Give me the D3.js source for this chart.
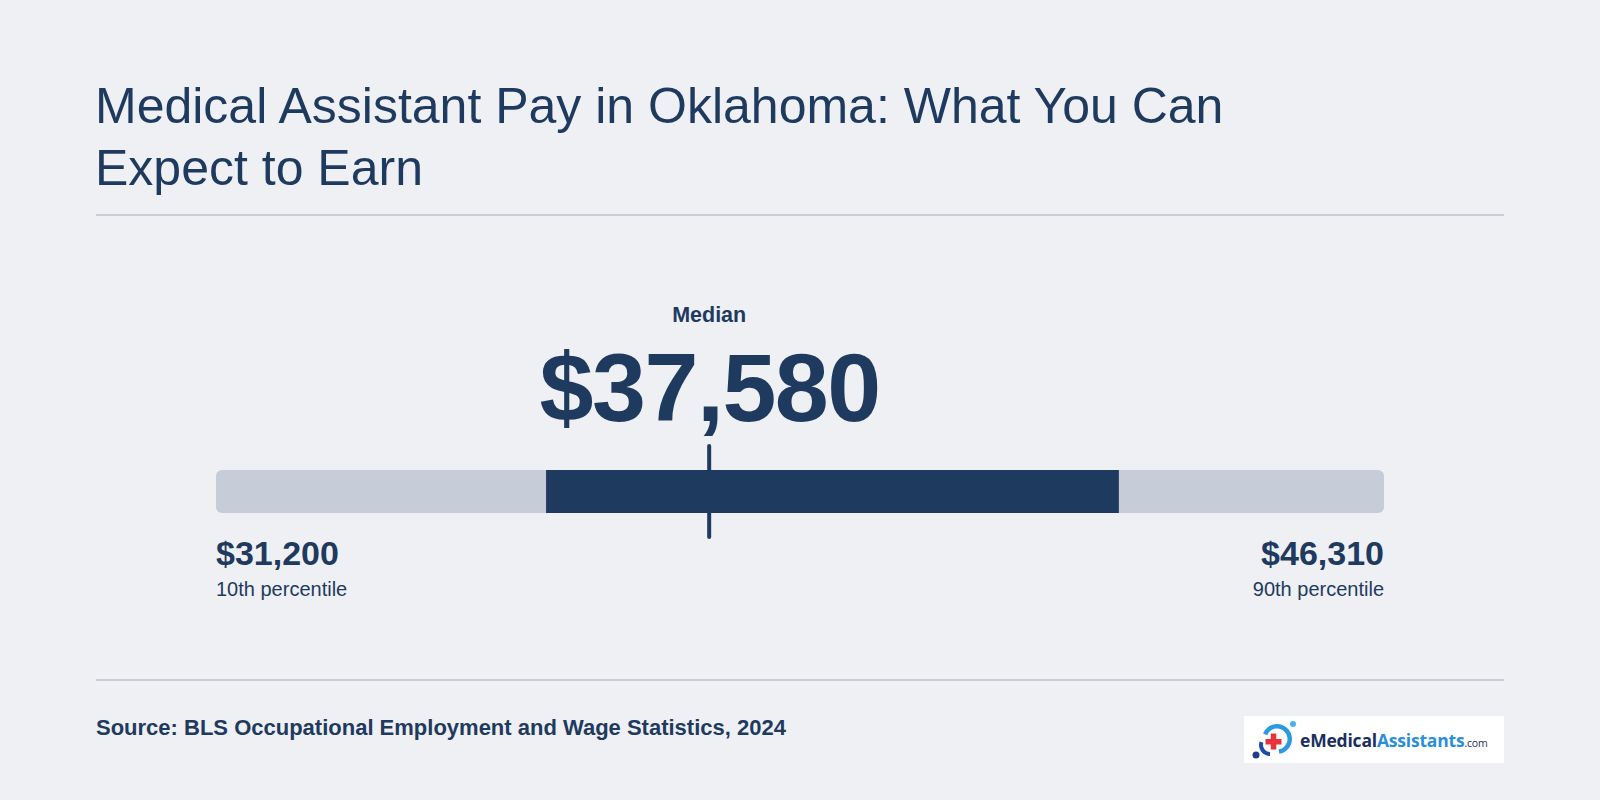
<!DOCTYPE html>
<html lang="en">
<head>
<meta charset="utf-8" />
<title>Medical Assistant Pay in Oklahoma</title>
<script src="https://d3js.org/d3.v7.min.js"></script>
<style>
  body { margin: 0; background: #eef0f4; }
  text { font-family: "Liberation Sans", Arial, Helvetica, sans-serif; fill: #1f3a5f; }
</style>
</head>
<body>
<div id="chart"></div>
<script>
// wage percentiles (BLS OEWS 2024, Oklahoma)
var percentiles = [10, 25, 50, 75, 90];
var wages = [31200, 35470, 37580, 42880, 46310];
var endLabels = ["10th percentile", "90th percentile"];
var titleLines = ["Medical Assistant Pay in Oklahoma: What You Can", "Expect to Earn"];
var sourceText = "Source: BLS Occupational Employment and Wage Statistics, 2024";

var width = 1600, height = 800;
var navy = "#1f3a5f", track = "#c6cdd8", rule = "#c9ced6";

var svg = d3.select("#chart").append("svg")
    .attr("width", width)
    .attr("height", height);

svg.append("rect").attr("width", width).attr("height", height).attr("fill", "#eef0f4");

// title
svg.selectAll(".title").data(titleLines).enter()
  .append("text")
    .attr("class", "title")
    .attr("x", 95)
    .attr("y", function(d, i){ return 123 + i * 62; })
    .attr("font-size", 50)
    .text(function(d){ return d; });

// divider lines
svg.append("line").attr("x1", 96).attr("x2", 1504).attr("y1", 215).attr("y2", 215)
    .attr("stroke", rule).attr("stroke-width", 2);
svg.append("line").attr("x1", 96).attr("x2", 1504).attr("y1", 680).attr("y2", 680)
    .attr("stroke", rule).attr("stroke-width", 2);

// scale for the wage range
var x = d3.scaleLinear()
    .domain([wages[0], wages[4]])
    .range([216, 1384]);
var fmt = d3.format("$,");
var barY = 470, barH = 43;

// full 10th-90th range
svg.append("rect")
    .attr("x", x(wages[0]))
    .attr("y", barY)
    .attr("width", x(wages[4]) - x(wages[0]))
    .attr("height", barH)
    .attr("rx", 6)
    .attr("fill", track);

// 25th-75th band
svg.append("rect")
    .attr("x", x(wages[1]))
    .attr("y", barY)
    .attr("width", x(wages[3]) - x(wages[1]))
    .attr("height", barH)
    .attr("fill", navy);

// median marker
svg.append("line")
    .attr("x1", x(wages[2])).attr("x2", x(wages[2]))
    .attr("y1", 446).attr("y2", 537)
    .attr("stroke", navy)
    .attr("stroke-width", 4)
    .attr("stroke-linecap", "round");

svg.append("text")
    .attr("x", x(wages[2]))
    .attr("y", 322)
    .attr("text-anchor", "middle")
    .attr("font-size", 21.5)
    .attr("font-weight", "bold")
    .text("Median");

svg.append("text")
    .attr("x", x(wages[2]) + 0.5)
    .attr("y", 421)
    .attr("text-anchor", "middle")
    .attr("font-size", 97)
    .attr("font-weight", "bold")
    .attr("letter-spacing", -1.5)
    .text(fmt(wages[2]));

// end labels
var ends = [
  {v: wages[0], label: endLabels[0], anchor: "start"},
  {v: wages[4], label: endLabels[1], anchor: "end"}
];
var endG = svg.selectAll(".end").data(ends).enter().append("g").attr("class", "end");
endG.append("text")
    .attr("x", function(d){ return x(d.v); })
    .attr("y", 565)
    .attr("text-anchor", function(d){ return d.anchor; })
    .attr("font-size", 34)
    .attr("font-weight", "bold")
    .text(function(d){ return fmt(d.v); });
endG.append("text")
    .attr("x", function(d){ return x(d.v); })
    .attr("y", 596)
    .attr("text-anchor", function(d){ return d.anchor; })
    .attr("font-size", 20)
    .text(function(d){ return d.label; });

// source
svg.append("text")
    .attr("x", 96)
    .attr("y", 735)
    .attr("font-size", 22)
    .attr("font-weight", "bold")
    .text(sourceText);

// logo
var logo = svg.append("g");
logo.append("rect").attr("x", 1244).attr("y", 716).attr("width", 260).attr("height", 47).attr("fill", "#ffffff");

var ring = d3.arc();
logo.append("path")
    .attr("transform", "translate(1277,739)")
    .attr("d", ring({innerRadius: 10.5, outerRadius: 15, startAngle: -0.38 * Math.PI, endAngle: 0.95 * Math.PI}))
    .attr("fill", "#2a9be0");
logo.append("path")
    .attr("transform", "translate(1270,745)")
    .attr("d", ring({innerRadius: 7, outerRadius: 11, startAngle: 1.0 * Math.PI, endAngle: 1.6 * Math.PI}))
    .attr("fill", "#1f4aa8");
logo.append("circle").attr("cx", 1256).attr("cy", 755).attr("r", 3.5).attr("fill", "#1f3a8a");
logo.append("circle").attr("cx", 1293).attr("cy", 724).attr("r", 3).attr("fill", "#46b4ec");
// red cross
logo.append("rect").attr("x", 1265.5).attr("y", 739).attr("width", 16).attr("height", 5.5).attr("fill", "#e8333c");
logo.append("rect").attr("x", 1270.8).attr("y", 733.5).attr("width", 5.5).attr("height", 16).attr("fill", "#e8333c");

var logoText = logo.append("text")
    .attr("x", 1300)
    .attr("y", 747)
    .attr("font-size", 17.5)
    .attr("font-weight", "bold")
    .attr("letter-spacing", -0.2)
    .style("font-family", "'Open Sans', sans-serif");
logoText.append("tspan").style("fill", "#1b2f5e").text("eMedical");
logoText.append("tspan").style("fill", "#2a8fd8").text("Assistants");
logoText.append("tspan").style("fill", "#1b2f5e").attr("font-size", 10.5).attr("font-weight", "normal").text(".com");
</script>
</body>
</html>
